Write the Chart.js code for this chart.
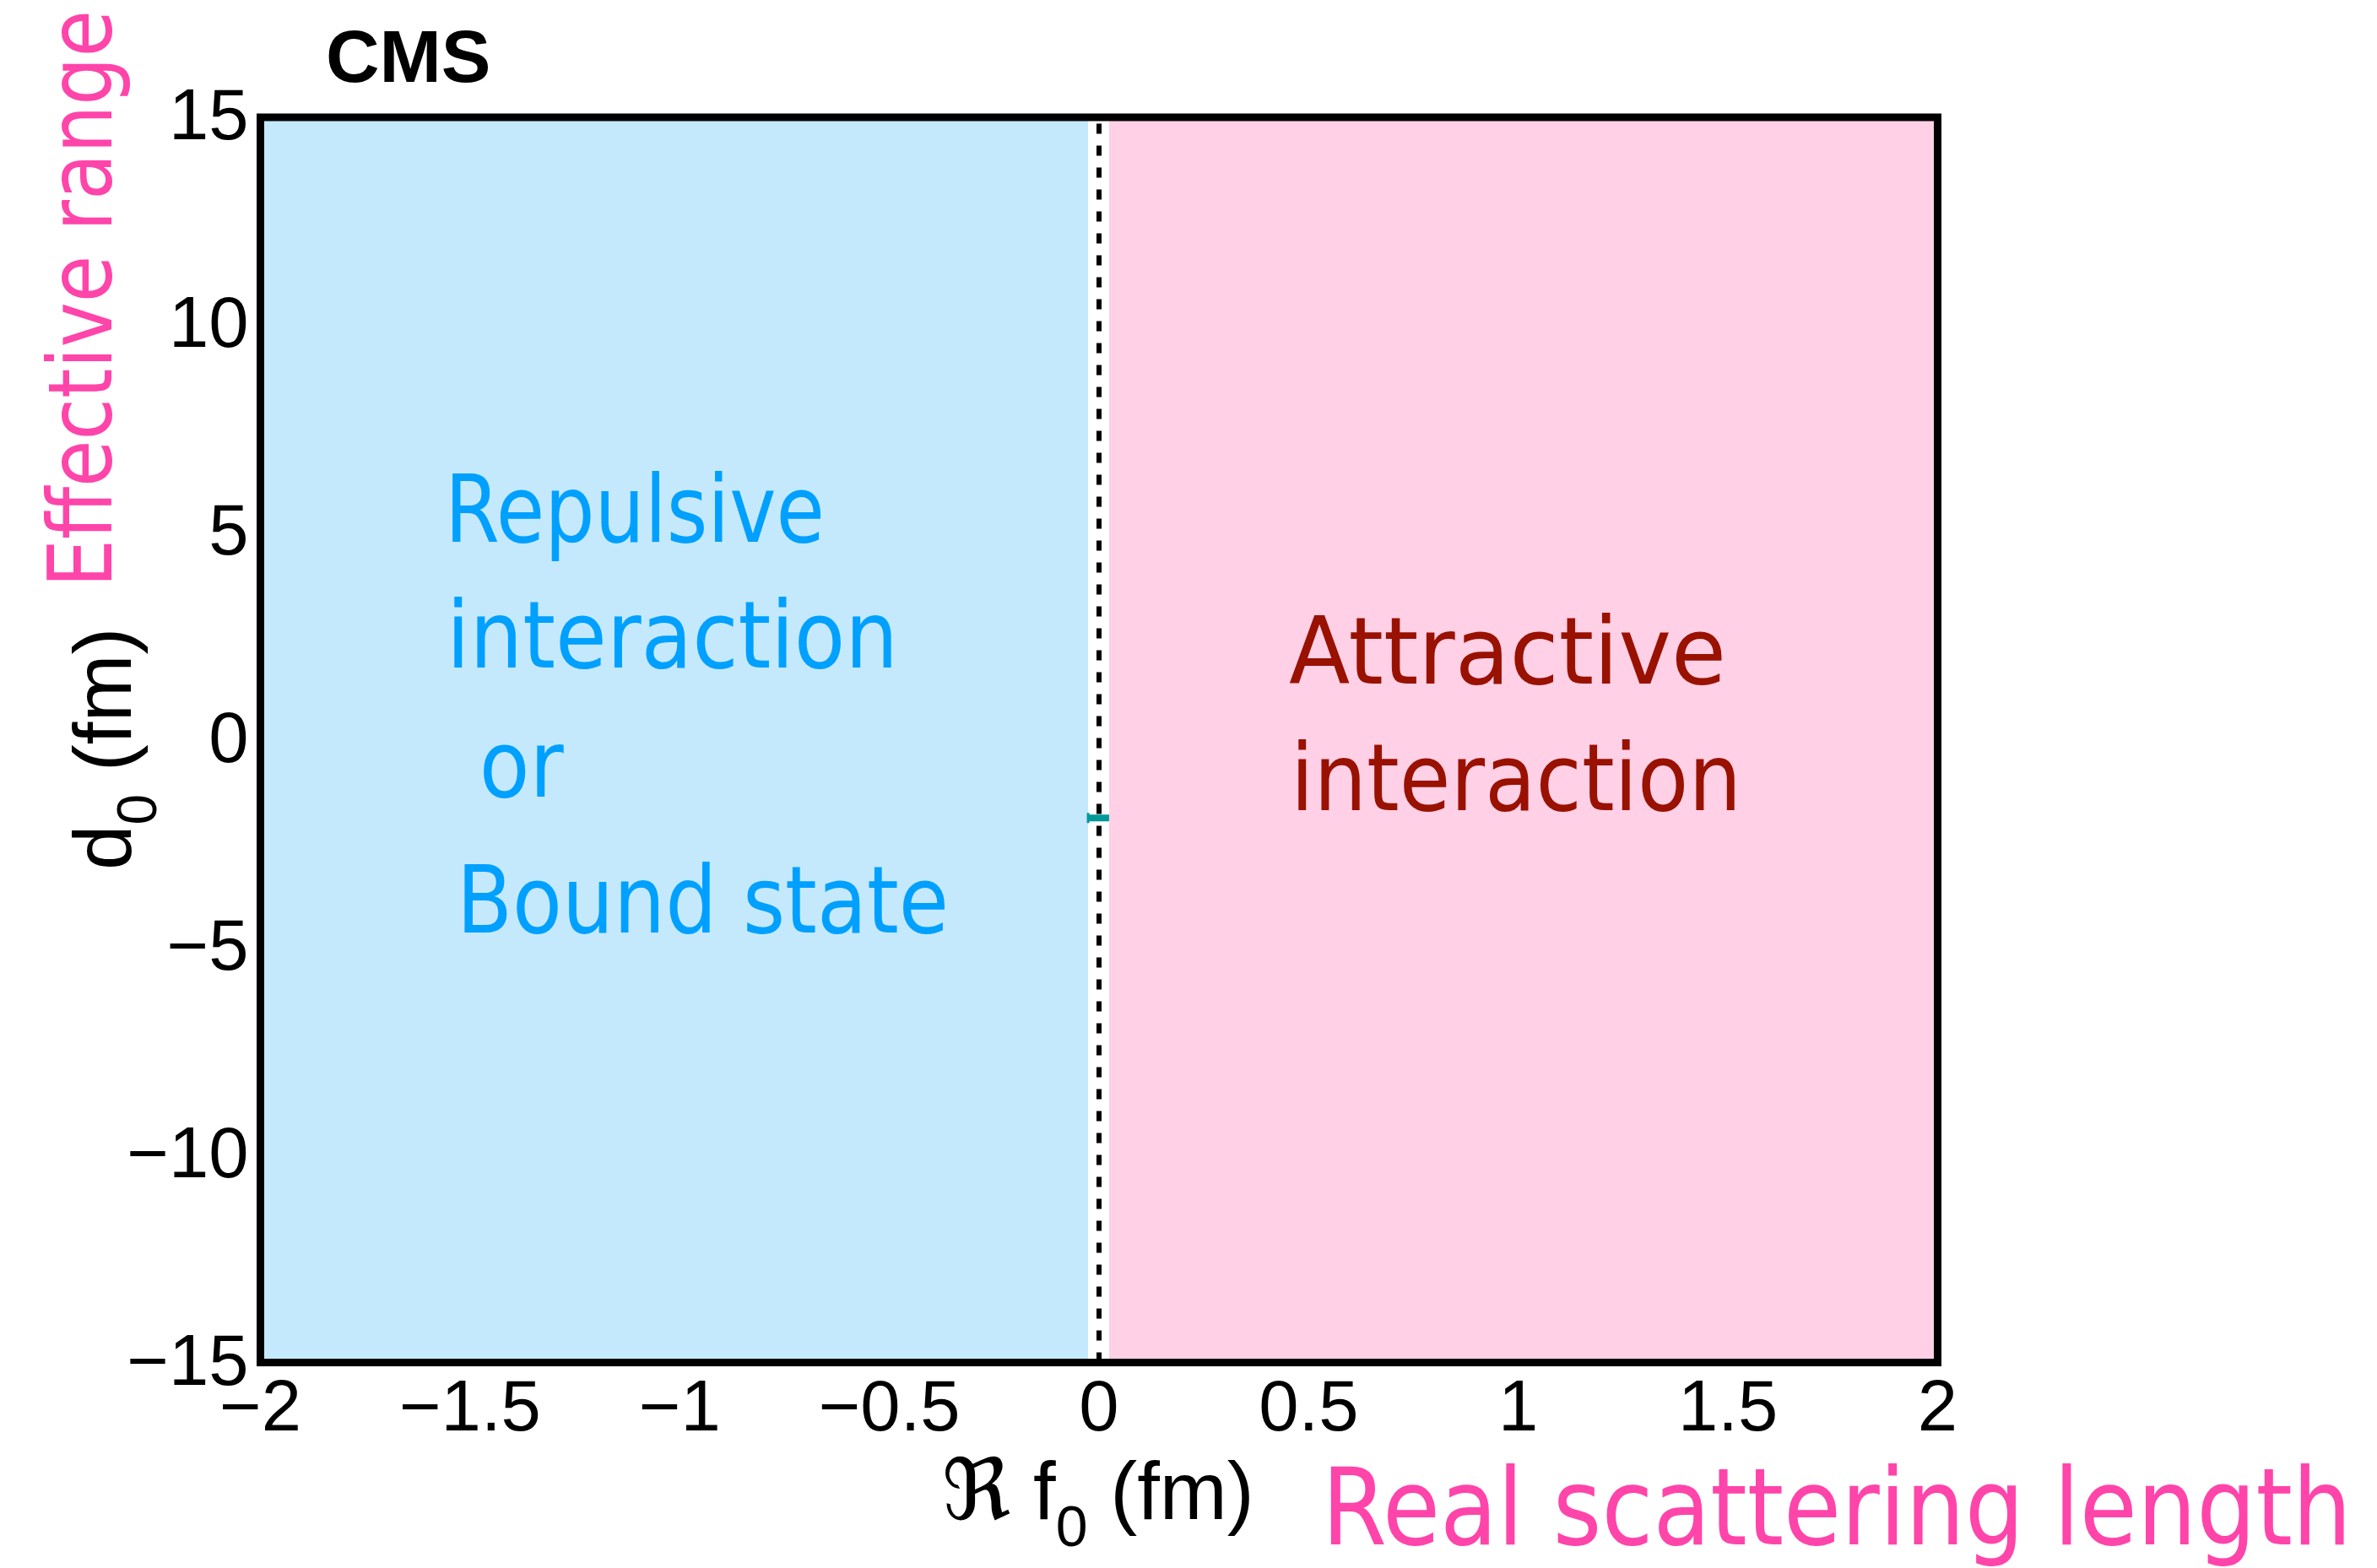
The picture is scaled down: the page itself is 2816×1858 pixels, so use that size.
<!DOCTYPE html>
<html>
<head>
<meta charset="utf-8">
<style>
  html, body { margin: 0; padding: 0; background: #ffffff; }
  canvas { display: block; }
</style>
<script src="https://cdn.jsdelivr.net/npm/chart.js@4/dist/chart.umd.min.js"></script>
</head>
<body>
<canvas id="c" width="2816" height="1858" style="width:2816px;height:1858px"></canvas>
<script>
// ---- axis ranges and tick values ----
const xTicks = [-2, -1.5, -1, -0.5, 0, 0.5, 1, 1.5, 2];
const yTicks = [-15, -10, -5, 0, 5, 10, 15];

// ---- shaded regions in Re f0, spanning the whole d0 range ----
const repulsiveX = [-2, -0.026];
const attractiveX = [0.024, 2];
const regionTopD0 = [15, 15];

// ---- Re f0 = 0 boundary ----
const boundaryX = [0, 0];
const boundaryY = [-15, 15];

// ---- measured point: Re f0 interval at fixed d0 ----
const measReF0 = [-0.026, 0.024];
const measD0 = [-1.88, -1.88];

const pairs = (xs, ys) => xs.map((v, i) => ({ x: v, y: ys[i] }));
const minus = v => (v < 0 ? '\u2212' : '') + Math.abs(v);

const TICK_FONT = '"Liberation Sans", Arial, Helvetica, sans-serif';
const HAND_FONT = '"DejaVu Sans", sans-serif';

// region annotations, anchored in data coordinates (left edge, baseline)
const regionNotes = [
  { text: 'Repulsive',   x: -1.560, y:  4.77, width: 450, color: '#00a0ff' },
  { text: 'interaction', x: -1.556, y:  1.74, width: 535, color: '#00a0ff' },
  { text: 'or',          x: -1.478, y: -1.37, width: 100, color: '#00a0ff' },
  { text: 'Bound state', x: -1.532, y: -4.64, width: 583, color: '#00a0ff' },
  { text: 'Attractive',  x:  0.453, y:  1.36, width: 518, color: '#991100' },
  { text: 'interaction', x:  0.457, y: -1.69, width: 534, color: '#991100' }
];

// draw text squeezed/stretched horizontally to a given width
function fittedText(ctx, text, x, y, size, family, color, width, rotate) {
  ctx.save();
  ctx.font = size + 'px ' + family;
  const w = ctx.measureText(text).width;
  ctx.translate(x, y);
  if (rotate) ctx.rotate(rotate);
  ctx.scale(width / w, 1);
  ctx.fillStyle = color;
  ctx.textAlign = 'left';
  ctx.textBaseline = 'alphabetic';
  ctx.fillText(text, 0, 0);
  ctx.restore();
}

// sequence of [text, size, baseline shift, family]
function pieces(ctx, list, color) {
  let pos = 0;
  ctx.fillStyle = color;
  ctx.textAlign = 'left';
  ctx.textBaseline = 'alphabetic';
  for (const [t, size, dy, fam] of list) {
    ctx.font = size + 'px ' + (fam || TICK_FONT);
    ctx.fillText(t, pos, dy);
    pos += ctx.measureText(t).width;
  }
}

const decorations = {
  id: 'decorations',
  beforeDraw(chart) {
    const ctx = chart.ctx;
    ctx.save();
    ctx.fillStyle = '#ffffff';
    ctx.fillRect(0, 0, chart.width, chart.height);
    ctx.restore();
  },
  afterDatasetsDraw(chart) {
    const { ctx, chartArea: a, scales } = chart;
    // region annotations
    for (const n of regionNotes) {
      fittedText(ctx, n.text, scales.x.getPixelForValue(n.x), scales.y.getPixelForValue(n.y),
                 110, HAND_FONT, n.color, n.width);
    }
    // frame
    ctx.save();
    ctx.lineWidth = 9;
    ctx.strokeStyle = '#000000';
    ctx.strokeRect(a.left, a.top, a.right - a.left, a.bottom - a.top);
    ctx.restore();
  },
  afterDraw(chart) {
    const ctx = chart.ctx;
    const a = chart.chartArea;

    // experiment label
    ctx.save();
    ctx.font = 'bold 88px ' + TICK_FONT;
    ctx.fillStyle = '#000000';
    ctx.textBaseline = 'alphabetic';
    ctx.fillText('CMS', 386, 97);
    ctx.restore();

    // y axis title: d0 (fm)
    ctx.save();
    ctx.translate(155, 1031);
    ctx.rotate(-Math.PI / 2);
    pieces(ctx, [['d', 96, 0], ['0', 66, 30], [' (fm)', 96, 0]], '#000000');
    ctx.restore();

    // x axis title: Re f0 (fm)
    ctx.save();
    ctx.translate(1116, 1800);
    pieces(ctx, [['\u211C', 100, 0, '"DejaVu Serif", "DejaVu Sans", serif'], [' f', 96, 0],
                 ['0', 68, 32], [' (fm)', 96, 0]], '#000000');
    ctx.restore();

    // descriptive titles
    fittedText(ctx, 'Real scattering length', 1566, 1830, 126, HAND_FONT, '#ff44aa', 1220);
    fittedText(ctx, 'Effective range', 132, 696, 106, HAND_FONT, '#ff44aa', 684, -Math.PI / 2);
  }
};

new Chart(document.getElementById('c'), {
  type: 'scatter',
  data: {
    datasets: [
      {
        label: 'Repulsive',
        data: pairs(repulsiveX, regionTopD0),
        showLine: true, fill: 'start',
        backgroundColor: '#c5e9fc', borderWidth: 0, pointRadius: 0, order: 4
      },
      {
        label: 'Attractive',
        data: pairs(attractiveX, regionTopD0),
        showLine: true, fill: 'start',
        backgroundColor: '#ffd0e6', borderWidth: 0, pointRadius: 0, order: 3
      },
      {
        label: 'Re f0 = 0',
        data: pairs(boundaryX, boundaryY),
        showLine: true, fill: false,
        borderColor: '#000000', borderWidth: 6, borderDash: [12, 14],
        pointRadius: 0, order: 2
      },
      {
        label: 'Measurement',
        data: pairs(measReF0, measD0),
        showLine: true, fill: false,
        borderColor: '#009999', borderWidth: 8,
        pointStyle: 'line', rotation: 90,
        pointRadius: [6, 0], pointBorderWidth: 3, pointBorderColor: '#009999',
        order: 1
      }
    ]
  },
  options: {
    responsive: false,
    animation: false,
    devicePixelRatio: 1,
    events: [],
    layout: { padding: { left: 0, top: 139, right: 520.5, bottom: 0 } },
    plugins: { legend: { display: false }, tooltip: { enabled: false }, title: { display: false } },
    scales: {
      x: {
        type: 'linear', min: -2, max: 2,
        afterBuildTicks: s => { s.ticks = xTicks.map(v => ({ value: v })); },
        afterFit: s => { s.height = 243.5; s.paddingLeft = s.paddingRight = s.paddingTop = s.paddingBottom = 0; },
        grid: { display: false, drawTicks: false },
        border: { display: false },
        ticks: {
          autoSkip: false, maxRotation: 0, padding: 6, color: '#000000',
          font: { family: TICK_FONT, size: 85 },
          callback: v => minus(v)
        }
      },
      y: {
        type: 'linear', min: -15, max: 15,
        afterBuildTicks: s => { s.ticks = yTicks.map(v => ({ value: v })); },
        afterFit: s => { s.width = 308.5; s.paddingLeft = s.paddingRight = s.paddingTop = s.paddingBottom = 0; },
        grid: { display: false, drawTicks: false },
        border: { display: false },
        ticks: {
          autoSkip: false, padding: 14, labelOffset: 3, color: '#000000',
          font: { family: TICK_FONT, size: 85 },
          callback: v => minus(v)
        }
      }
    }
  },
  plugins: [decorations]
});
</script>
</body>
</html>
